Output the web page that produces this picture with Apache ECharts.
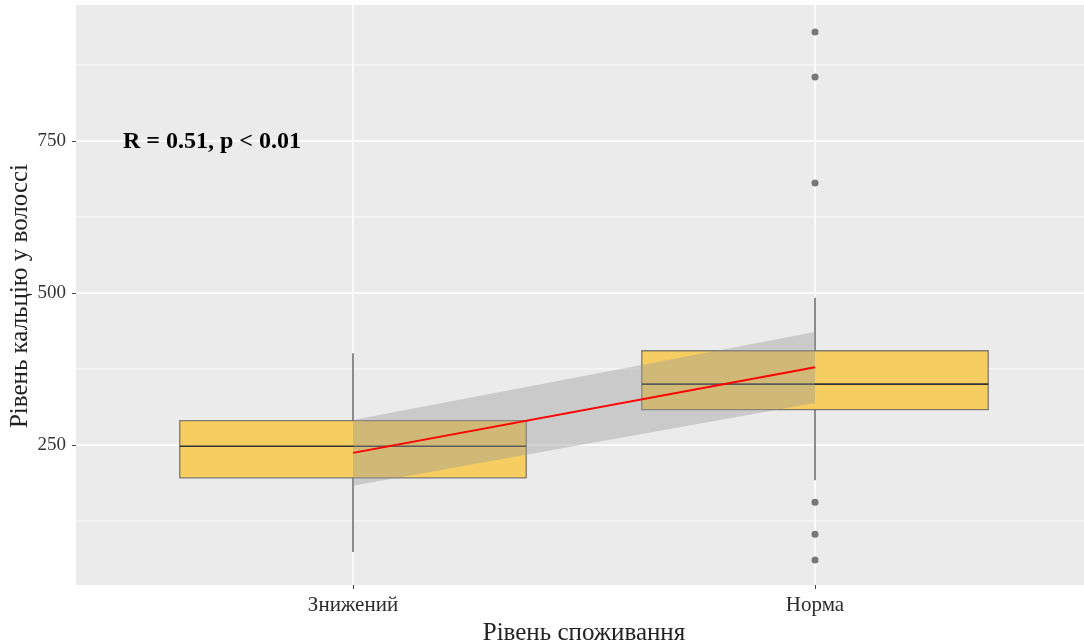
<!DOCTYPE html>
<html>
<head>
<meta charset="utf-8">
<script src="https://cdn.jsdelivr.net/npm/echarts@6/dist/echarts.min.js"></script>
<style>html,body{margin:0;padding:0;background:#fff}#c{width:1084px;height:641px}</style>
</head>
<body>
<div id="c"></div>
<script>
// ---- data ----
const categories = ['Знижений', 'Норма'];
// [min whisker, Q1, median, Q3, max whisker]
const boxData = [
  [74, 196, 248, 290, 401],
  [192, 308, 350, 405, 492]
];
// outliers: [category index, value]
const outliers = [[1, 929], [1, 855], [1, 681], [1, 156], [1, 103], [1, 61]];
// regression line at category centres and its confidence band
const fitValues = [237, 378];
const bandLow = [183, 319];
const bandHigh = [291, 436];
const yTicks = [250, 500, 750];
const yMinor = [125, 375, 625, 875];
const yRange = [19.7, 973.6];
const annotation = 'R = 0.51, p < 0.01';
const xTitle = 'Рівень споживання';
const yTitle = 'Рівень кальцію у волоссі';

const serif = "'Liberation Serif', 'DejaVu Serif', serif";
const chart = echarts.init(document.getElementById('c'));

const hLines = yTicks.map(v => [0, v, 1]).concat(yMinor.map(v => [0, v, 0]));

chart.setOption({
  animation: false,
  grid: [
    { left: 76, top: 5, width: 1016, height: 580, show: true, backgroundColor: '#EBEBEB', borderWidth: 0, outerBoundsMode: 'none', containLabel: false },
    { left: 122, top: 5, width: 924, height: 580, show: false, outerBoundsMode: 'none', containLabel: false }
  ],
  xAxis: [
    { gridIndex: 0, type: 'value', min: 0, max: 1, show: false },
    { gridIndex: 1, type: 'category', data: categories, boundaryGap: true,
      axisLine: { show: false },
      axisTick: { show: true, alignWithLabel: true, length: 4, lineStyle: { color: '#444', width: 1 } },
      axisLabel: { color: '#2b2b2b', fontFamily: serif, fontSize: 21, margin: 10 },
      splitLine: { show: false },
      name: xTitle, nameLocation: 'middle', nameGap: 34,
      nameTextStyle: { color: '#222', fontFamily: serif, fontSize: 25 }
    }
  ],
  yAxis: [
    { gridIndex: 0, type: 'value', min: yRange[0], max: yRange[1],
      axisLine: { show: false },
      axisTick: { show: true, length: 4, customValues: yTicks, lineStyle: { color: '#444' } },
      axisLabel: { customValues: yTicks, color: '#333', fontFamily: serif, fontSize: 19, margin: 10 },
      splitLine: { show: false }
    },
    { gridIndex: 1, type: 'value', min: yRange[0], max: yRange[1], show: false }
  ],
  graphic: [
    { type: 'text', left: 123, top: 130, z: 100,
      style: { text: annotation, font: "bold 24px 'Liberation Serif', serif", fill: '#000' } },
    { type: 'text', x: 20, y: 296, rotation: Math.PI / 2, z: 100,
      style: { text: yTitle, font: "25px 'Liberation Serif', serif", fill: '#222', align: 'center', verticalAlign: 'middle' } }
  ],
  series: [
    { // horizontal grid lines
      type: 'custom', xAxisIndex: 0, yAxisIndex: 0, z: 1, silent: true,
      data: hLines, encode: { x: 0, y: 1 },
      renderItem: function (params, api) {
        const cs = params.coordSys;
        const p = api.coord([0, api.value(1)]);
        return { type: 'line', shape: { x1: cs.x, y1: p[1], x2: cs.x + cs.width, y2: p[1] },
          style: { stroke: '#FFFFFF', lineWidth: api.value(2) ? 1.6 : 0.8 } };
      }
    },
    { // vertical grid lines at category centres
      type: 'custom', xAxisIndex: 1, yAxisIndex: 1, z: 1, silent: true,
      data: categories.map((c, i) => [i, yRange[0]]), encode: { x: 0, y: 1 },
      renderItem: function (params, api) {
        const cs = params.coordSys;
        const p = api.coord([api.value(0), api.value(1)]);
        return { type: 'line', shape: { x1: p[0], y1: cs.y, x2: p[0], y2: cs.y + cs.height },
          style: { stroke: '#FFFFFF', lineWidth: 1.6 } };
      }
    },
    { // boxes with whiskers (no caps)
      type: 'custom', xAxisIndex: 1, yAxisIndex: 1, z: 2, silent: true,
      data: boxData.map((b, i) => [i].concat(b)), encode: { x: 0, y: [1, 2, 3, 4, 5] },
      renderItem: function (params, api) {
        const i = api.value(0);
        const pMin = api.coord([i, api.value(1)]);
        const pQ1 = api.coord([i, api.value(2)]);
        const pMed = api.coord([i, api.value(3)]);
        const pQ3 = api.coord([i, api.value(4)]);
        const pMax = api.coord([i, api.value(5)]);
        const w = api.size([1, 0])[0] * 0.75;
        const x0 = pMed[0] - w / 2;
        return { type: 'group', children: [
          { type: 'line', shape: { x1: pMed[0], y1: pQ3[1], x2: pMed[0], y2: pMax[1] }, style: { stroke: '#8C8C8C', lineWidth: 2 } },
          { type: 'line', shape: { x1: pMed[0], y1: pQ1[1], x2: pMed[0], y2: pMin[1] }, style: { stroke: '#8C8C8C', lineWidth: 2 } },
          { type: 'rect', shape: { x: x0, y: pQ3[1], width: w, height: pQ1[1] - pQ3[1] }, style: { fill: '#F5CD61', stroke: 'rgba(90,90,90,0.75)', lineWidth: 1.3 } },
          { type: 'line', shape: { x1: x0, y1: pMed[1], x2: x0 + w, y2: pMed[1] }, style: { stroke: '#333', lineWidth: 1.6 } }
        ] };
      }
    },
    {
      type: 'scatter', xAxisIndex: 1, yAxisIndex: 1, z: 3, silent: true,
      data: outliers, symbolSize: 7, itemStyle: { color: '#595959' }
    },
    { // confidence band
      type: 'custom', xAxisIndex: 1, yAxisIndex: 1, z: 4, silent: true,
      data: bandLow.map((v, i) => [i, v]), encode: { x: 0, y: 1 },
      renderItem: function (params, api) {
        if (params.dataIndex !== 0) return;
        const pts = [];
        for (let i = 0; i < bandLow.length; i++) pts.push(api.coord([i, bandHigh[i]]));
        for (let i = bandLow.length - 1; i >= 0; i--) pts.push(api.coord([i, bandLow[i]]));
        return { type: 'polygon', shape: { points: pts }, style: { fill: 'rgba(153,153,153,0.4)' } };
      }
    },
    {
      type: 'line', xAxisIndex: 1, yAxisIndex: 1, z: 5,
      data: fitValues, showSymbol: false, silent: true,
      lineStyle: { color: '#FF0000', width: 2 }
    }
  ]
});
</script>
</body>
</html>
